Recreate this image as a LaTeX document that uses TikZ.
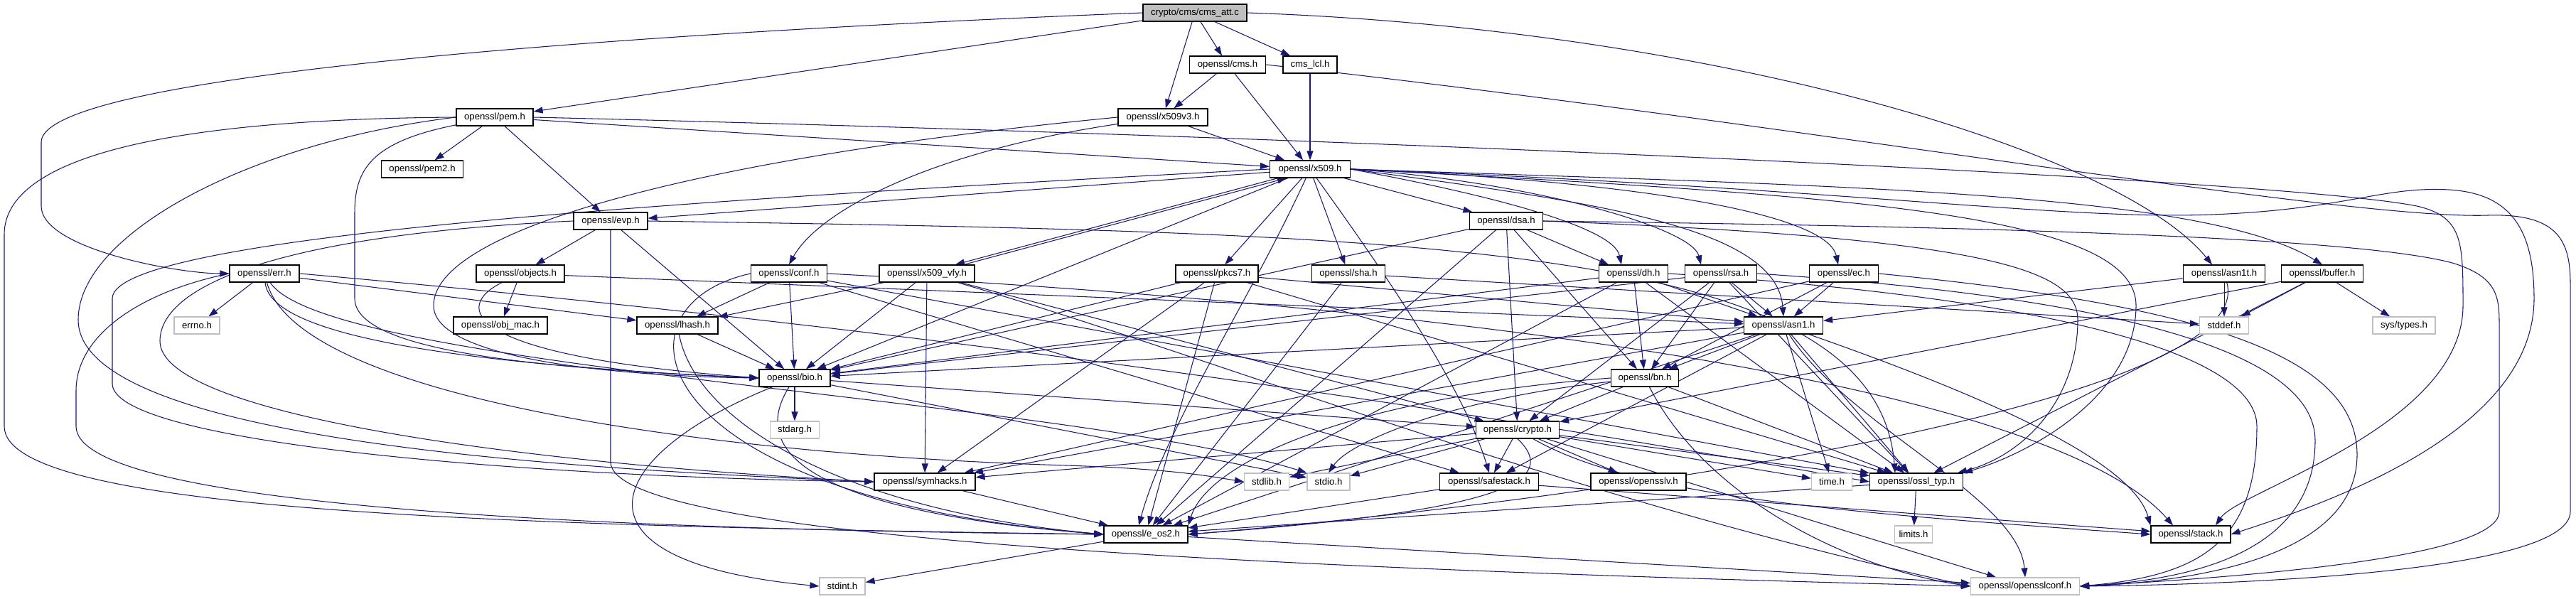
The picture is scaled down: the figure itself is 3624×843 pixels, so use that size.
\documentclass[tikz,border=0pt]{standalone}
\usepackage{fontspec}
\setmainfont{Liberation Sans}
\usetikzlibrary{arrows.meta}
\definecolor{edgeblue}{HTML}{191970}
\definecolor{greyline}{HTML}{BFBFBF}
\definecolor{rootgrey}{HTML}{BFBFBF}
\newcommand\nodefnt{\fontsize{13.2}{15}\selectfont}
\pgfdeclarelayer{bg}
\pgfsetlayers{bg,main}
\tikzset{
  hdr/.style={draw=black, line width=1.2pt, fill=white, minimum height=24pt, inner sep=0pt, font=\nodefnt},
  sysh/.style={hdr, draw=greyline},
  rooth/.style={hdr, fill=rootgrey},
  e/.style={draw=edgeblue, line width=1.05pt, -{Triangle[length=13pt,width=9pt]}},
}
\begin{document}
\begin{tikzpicture}[x=1pt,y=-1pt]
\useasboundingbox (0,0) rectangle (3624,843);
% row 0-4
\node[rooth, minimum width=146pt] (att) at (1681,18) {crypto/cms/cms\_att.c};
\node[hdr, minimum width=107pt] (cms) at (1727,91) {openssl/cms.h};
\node[hdr, minimum width=76pt] (lcl) at (1843,91) {cms\_lcl.h};
\node[hdr, minimum width=108pt] (pem) at (696,165) {openssl/pem.h};
\node[hdr, minimum width=126pt] (x509v3) at (1636,165) {openssl/x509v3.h};
\node[hdr, minimum width=115pt] (pem2) at (594,238) {openssl/pem2.h};
\node[hdr, minimum width=113pt] (x509) at (1843,238) {openssl/x509.h};
\node[hdr, minimum width=104pt] (evp) at (859,311) {openssl/evp.h};
\node[hdr, minimum width=103pt] (dsa) at (2119,311) {openssl/dsa.h};
% row 5
\node[hdr, minimum width=98pt] (err) at (372,385) {openssl/err.h};
\node[hdr, minimum width=124pt] (objects) at (732,385) {openssl/objects.h};
\node[hdr, minimum width=107pt] (conf) at (1110,385) {openssl/conf.h};
\node[hdr, minimum width=134pt] (vfy) at (1304,385) {openssl/x509\_vfy.h};
\node[hdr, minimum width=116pt] (pkcs7) at (1712,385) {openssl/pkcs7.h};
\node[hdr, minimum width=103pt] (sha) at (1897,385) {openssl/sha.h};
\node[hdr, minimum width=97pt] (dh) at (2298,385) {openssl/dh.h};
\node[hdr, minimum width=101pt] (rsa) at (2421,385) {openssl/rsa.h};
\node[hdr, minimum width=97pt] (ec) at (2594,385) {openssl/ec.h};
\node[hdr, minimum width=115pt] (asn1t) at (3129,385) {openssl/asn1t.h};
\node[hdr, minimum width=115pt] (buffer) at (3267,385) {openssl/buffer.h};
% row 6
\node[sysh, minimum width=64pt] (errno) at (277,458) {errno.h};
\node[hdr, minimum width=132pt] (objmac) at (704,458) {openssl/obj\_mac.h};
\node[hdr, minimum width=114pt] (lhash) at (953,458) {openssl/lhash.h};
\node[hdr, minimum width=111pt] (asn1) at (2509,458) {openssl/asn1.h};
\node[sysh, minimum width=69pt] (stddef) at (3129,458) {stddef.h};
\node[sysh, minimum width=88pt] (systypes) at (3382,458) {sys/types.h};
% row 7-8
\node[hdr, minimum width=100pt] (bio) at (1118,532) {openssl/bio.h};
\node[hdr, minimum width=95pt] (bn) at (2314,532) {openssl/bn.h};
\node[sysh, minimum width=69pt] (stdarg) at (1118,605) {stdarg.h};
\node[hdr, minimum width=117pt] (crypto) at (2135,605) {openssl/crypto.h};
% row 9
\node[hdr, minimum width=142pt] (symhacks) at (1301,678) {openssl/symhacks.h};
\node[sysh, minimum width=63pt] (stdlib) at (1782,678) {stdlib.h};
\node[sysh, minimum width=60pt] (stdio) at (1869,678) {stdio.h};
\node[hdr, minimum width=139pt] (safestack) at (2095,678) {openssl/safestack.h};
\node[hdr, minimum width=134pt] (opensslv) at (2305,678) {openssl/opensslv.h};
\node[sysh, minimum width=57pt] (time) at (2577,678) {time.h};
\node[hdr, minimum width=131pt] (ossltyp) at (2696,678) {openssl/ossl\_typ.h};
% row 10-11
\node[hdr, minimum width=118pt] (eos2) at (1612,752) {openssl/e\_os2.h};
\node[sysh, minimum width=53pt] (limits) at (2692,752) {limits.h};
\node[hdr, minimum width=112pt] (stack) at (3082,752) {openssl/stack.h};
\node[sysh, minimum width=64pt] (stdint) at (1185,825) {stdint.h};
\node[sysh, minimum width=153pt] (sslconf) at (2849,825) {openssl/opensslconf.h};

\begin{pgfonlayer}{bg}
\fill[white] (0,0) rectangle (3624,843);
% root
\draw[e] (att.west) .. controls (800,50) and (58,110) .. (58,200) -- (58,290) .. controls (58,350) and (250,385) .. (err.west);
\draw[e] (att) -- (pem);
\draw[e] (att) -- (x509v3);
\draw[e] (att) -- (cms);
\draw[e] (att) -- (lcl);
\draw[e] (att.east) .. controls (2400,40) and (2980,210) .. ([xshift=-17pt]asn1t.north);
% cms
\draw[e] (cms) -- (x509v3);
\draw[e] (cms) -- (x509);
\draw[e] (cms.east) .. controls (2500,170) and (3300,310) .. (3500,303) .. controls (3600,300) and (3616,340) .. (3616,400) -- (3616,720) .. controls (3616,800) and (3200,822) .. (sslconf.east);
\draw[e] (lcl) -- (x509);
% pem
\draw[e] (pem) -- (pem2);
\draw[e] (pem) -- (evp);
\draw[e] (pem) -- (x509);
\draw[e] (pem.west) .. controls (200,168) and (6,230) .. (6,330) -- (6,600) .. controls (6,720) and (700,740) .. (eos2.west);
\draw[e] (pem.west) .. controls (350,200) and (110,330) .. (110,450) .. controls (110,620) and (800,660) .. (symhacks.west);
\draw[e] (pem) .. controls (520,200) and (499,240) .. (499,300) -- (499,420) .. controls (499,500) and (800,520) .. (bio.west);
\draw[e] (pem.east) .. controls (1800,190) and (3200,250) .. (3400,290) .. controls (3465,305) and (3465,340) .. (3465,430) .. controls (3465,600) and (3150,690) .. ([xshift=35pt]stack.north);
% x509v3
\draw[e] (x509v3) -- (x509);
\draw[e] (x509v3.west) .. controls (1000,220) and (610,320) .. (610,430) .. controls (610,510) and (900,530) .. (bio.west);
\draw[e] (x509v3) .. controls (1300,215) and (1150,300) .. (conf.north);
% x509
\draw[e] (x509) -- (evp);
\draw[e] (x509) .. controls (1760,420) and (1640,600) .. ([xshift=-10pt]eos2.north);
\draw[e] (x509) -- (bio);
\draw[e] ([xshift=-45pt]x509.south) -- ([xshift=40pt]vfy.north);
\draw[e] ([xshift=52pt]vfy.north) -- ([xshift=-33pt]x509.south);
\draw[e] (x509) -- (pkcs7);
\draw[e] (x509) -- (sha);
\draw[e] (x509) -- (dsa);
\draw[e] (x509.east) .. controls (2100,275) and (2270,320) .. ([xshift=-17pt]dh.north);
\draw[e] (x509.east) .. controls (2150,255) and (2380,320) .. ([xshift=-28pt]rsa.north);
\draw[e] (x509.east) .. controls (2300,255) and (2570,300) .. ([xshift=-8pt]ec.north);
\draw[e] (x509.east) .. controls (2250,285) and (2500,320) .. (asn1.north);
\draw[e] (x509) .. controls (1960,400) and (2060,550) .. (safestack.north);
\draw[e] (x509.west) .. controls (1000,280) and (158,330) .. (158,420) -- (158,540) .. controls (158,620) and (700,670) .. (symhacks.west);
\draw[e] (x509.east) .. controls (2600,275) and (3005,300) .. (3005,430) .. controls (3005,560) and (2850,640) .. (ossltyp.north east);
\draw[e] (x509.east) .. controls (2600,262) and (3100,270) .. (buffer.north);
\draw[e] (x509.east) .. controls (2600,265) and (2900,310) .. (3111,302) .. controls (3300,295) and (3350,262) .. (3445,267) .. controls (3530,272) and (3565,320) .. (3565,420) .. controls (3565,600) and (3300,700) .. (stack.east);
% evp
\draw[e] (evp) -- (objects);
\draw[e] (evp) -- (bio);
\draw[e] (evp.west) .. controls (400,330) and (225,400) .. (225,480) .. controls (225,580) and (700,650) .. (symhacks.west);
\draw[e] (evp.south) -- (859,650) .. controls (859,760) and (1800,800) .. (sslconf.west);
\draw[e] (evp.east) .. controls (2000,328) and (2640,340) .. ([xshift=-30pt]ossltyp.north);
% dsa
\draw[e] (dsa) -- (bio);
\draw[e] (dsa) -- (eos2);
\draw[e] (dsa) -- (crypto);
\draw[e] (dsa) -- (bn);
\draw[e] (dsa) -- ([xshift=-35pt]dh.north);
\draw[e] (dsa.east) .. controls (2700,318) and (3300,330) .. (3450,370) .. controls (3516,390) and (3516,420) .. (3516,460) -- (3516,720) .. controls (3516,790) and (3100,815) .. (sslconf.east);
\draw[e] (dsa.east) .. controls (2800,335) and (2923,380) .. (2923,450) .. controls (2923,560) and (2850,640) .. ([xshift=-8pt]ossltyp.north east);
% err
\draw[e] (err) -- (errno);
\draw[e] (err) -- (lhash);
\draw[e] (err.west) .. controls (200,410) and (107,470) .. (107,550) -- (107,600) .. controls (107,710) and (800,745) .. (eos2.west);
\draw[e] (err) .. controls (380,480) and (700,515) .. (bio.west);
\draw[e] (err) .. controls (420,560) and (1000,640) .. (1500,655) .. controls (1650,660) and (1700,670) .. (stdlib.west);
\draw[e] (err) .. controls (460,520) and (1500,560) .. (stdio.north west);
\draw[e] (err.east) .. controls (1500,480) and (2300,620) .. (ossltyp.west);
% objects
\draw[e] (objects) -- (objmac);
\draw[e] (objects) .. controls (640,430) and (640,500) .. (bio.west);
\draw[e] (objects) -- (asn1);
% conf
\draw[e] (conf) -- (bio);
\draw[e] (conf) -- (lhash);
\draw[e] (conf) -- (safestack);
\draw[e] (conf) -- (ossltyp);
\draw[e] (conf.east) .. controls (2200,440) and (2900,560) .. ([xshift=-25pt]stack.north);
\draw[e] (conf.west) .. controls (850,430) and (900,700) .. (eos2.west);
% vfy
\draw[e] (vfy) -- (lhash);
\draw[e] (vfy) -- (bio);
\draw[e] (vfy) -- (crypto);
\draw[e] (vfy) -- (symhacks);
\draw[e] (vfy) .. controls (1700,500) and (2200,700) .. (sslconf.west);
% pkcs7
\draw[e] (pkcs7) -- (asn1);
\draw[e] (pkcs7) -- (bio);
\draw[e] (pkcs7) -- (eos2);
\draw[e] (pkcs7) -- (symhacks);
\draw[e] (pkcs7) -- (ossltyp);
% sha
\draw[e] (sha) -- (eos2);
\draw[e] (sha) -- (stddef);
% dh
\draw[e] (dh) -- (eos2);
\draw[e] (dh) -- (bio);
\draw[e] (dh) -- (asn1);
\draw[e] (dh) -- (ossltyp);
\draw[e] (dh) -- (bn);
\draw[e] (dh.east) .. controls (2900,420) and (3175,500) .. (3175,600) .. controls (3175,760) and (3100,810) .. (sslconf.east);
% rsa
\draw[e] (rsa) -- (asn1);
\draw[e] (rsa) -- (bio);
\draw[e] (rsa) -- (crypto);
\draw[e] (rsa) -- (ossltyp);
\draw[e] (rsa) -- (bn);
\draw[e] (rsa.east) .. controls (3000,420) and (3257,500) .. (3257,620) .. controls (3257,770) and (3100,815) .. (sslconf.east);
% ec
\draw[e] (ec) -- (asn1);
\draw[e] (ec) -- (symhacks);
\draw[e] (ec) -- (bn);
\draw[e] (ec.east) .. controls (3100,430) and (3316,500) .. (3316,640) .. controls (3316,780) and (3100,818) .. (sslconf.east);
% asn1t
\draw[e] (asn1t) -- (stddef);
\draw[e] (asn1t) -- (asn1);
\draw[e] (asn1t) .. controls (3180,560) and (2300,700) .. (eos2.east);
% buffer
\draw[e] (buffer) -- (ossltyp);
\draw[e] (buffer) -- (crypto);
\draw[e] (buffer) -- (stddef);
\draw[e] (buffer) -- (systypes);
% lhash
\draw[e] (lhash) -- (bio);
\draw[e] (lhash) .. controls (980,600) and (1200,720) .. (eos2.west);
% asn1
\draw[e] (asn1) -- (time);
\draw[e] (asn1) -- (eos2);
\draw[e] (asn1) .. controls (2600,600) and (2840,700) .. (sslconf.north);
\draw[e] (asn1) -- (bio);
\draw[e] (asn1) .. controls (2800,560) and (3000,650) .. (stack.north west);
\draw[e] (asn1) -- (safestack);
\draw[e] (asn1) -- (symhacks);
\draw[e] (asn1) -- (ossltyp);
\draw[e] (asn1) -- (bn);
% bio
\draw[e] (bio) -- (stdio);
\draw[e] (bio) -- (stdarg);
\draw[e] (bio) -- (crypto);
\draw[e] (bio) .. controls (1050,640) and (1150,720) .. (eos2.west);
\draw[e] (bio) .. controls (850,640) and (780,790) .. (stdint.west);
% bn
\draw[e] (bn.west) .. controls (1900,560) and (1700,650) .. (eos2.north east);
\draw[e] (bn) .. controls (2050,560) and (1900,620) .. (stdio.north);
\draw[e] (bn) .. controls (2400,700) and (2600,800) .. (sslconf.west);
\draw[e] (bn) -- (ossltyp);
\draw[e] (bn) -- (crypto);
% crypto
\draw[e] (crypto) -- (stdlib);
\draw[e] (crypto) -- (time);
\draw[e] (crypto.south) .. controls (2200,680) and (2100,720) .. (eos2.east);
\draw[e] (crypto) -- (stdio);
\draw[e] (crypto) .. controls (2300,700) and (2600,722) .. (stack.west);
\draw[e] (crypto) -- (safestack);
\draw[e] (crypto) -- (opensslv);
\draw[e] (crypto) -- (ossltyp);
\draw[e] (crypto) -- (sslconf);
\draw[e] (crypto) -- (symhacks);
% others
\draw[e] (safestack) -- (stack);
\draw[e] (safestack) -- (eos2);
\draw[e] (symhacks) -- (eos2);
\draw[e] (ossltyp) -- (limits);
\draw[e] (ossltyp) -- (eos2);
\draw[e] (eos2) -- (sslconf);
\draw[e] (eos2) -- (stdint);
\end{pgfonlayer}
\end{tikzpicture}
\end{document}
